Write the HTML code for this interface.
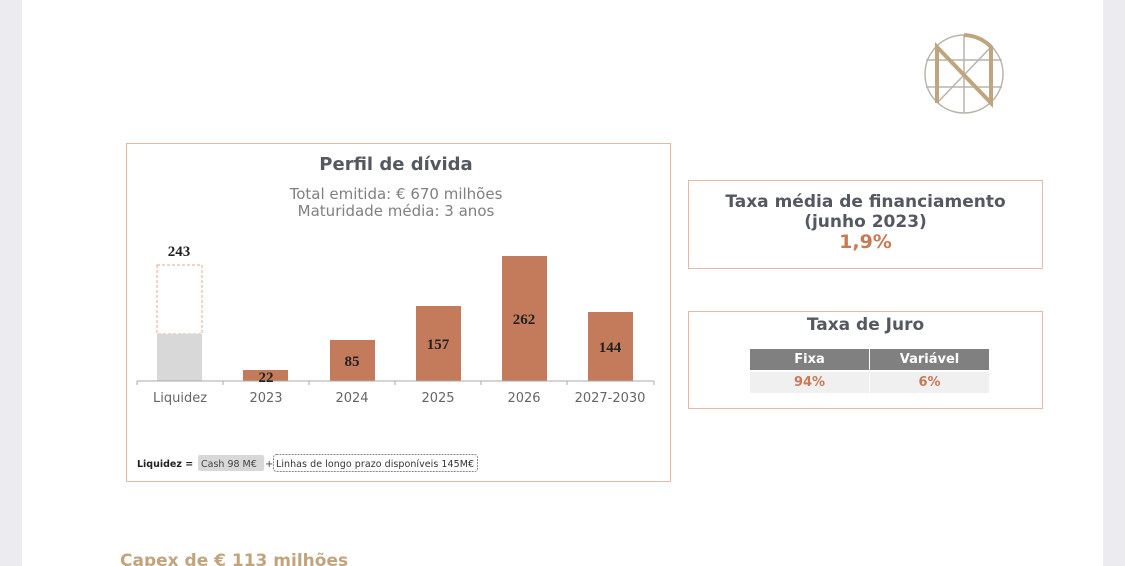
<!DOCTYPE html>
<html><head><meta charset="utf-8"><style>
html,body{margin:0;width:1125px;height:566px;overflow:hidden}
body{background:#ebebf0;font-family:"DejaVu Sans","Liberation Sans",sans-serif;position:relative}
.page{position:absolute;left:22px;top:0;width:1081px;height:566px;background:#fff}
.a{position:absolute}
.box{position:absolute;border:1.5px solid #e6b9a6;box-sizing:border-box}
.c{text-align:center}
</style></head><body>
<div class="page"></div>
<svg class="a" style="left:920px;top:30px" width="90" height="90" viewBox="0 0 90 90">
<g stroke="#b9b3ab" stroke-width="1.5" fill="none"><circle cx="44" cy="44" r="39"/>
<line x1="6" y1="30" x2="82" y2="30"/><line x1="6" y1="57" x2="82" y2="57"/><line x1="44" y1="5" x2="44" y2="83"/><line x1="17" y1="73" x2="71" y2="17"/></g>
<g stroke="#bfa57e" stroke-width="4" fill="none"><path d="M17 73 V17 L71 73 V17"/><path d="M44 5 A39 39 0 0 1 72 18"/></g>
</svg>
<div class="box" style="left:126px;top:143px;width:545px;height:339px"></div>
<div class="a c" style="left:126px;width:540px;top:154px;font-size:18px;font-weight:bold;color:#545860">Perfil de dívida</div>
<div class="a c" style="left:126px;width:540px;top:186px;font-size:15px;color:#808080;line-height:17px">Total emitida: € 670 milhões<br>Maturidade média: 3 anos</div>
<svg class="a" style="left:0;top:0" width="700" height="480">
<rect x="157" y="265" width="45" height="69" fill="none" stroke="#e0a88c" stroke-dasharray="3,2"/>
<rect x="157" y="334" width="45" height="47" fill="#d8d8d8"/>
<g fill="#c47b5c"><rect x="243" y="370" width="45" height="11"/><rect x="330" y="340" width="45" height="41"/><rect x="416" y="306" width="45" height="75"/><rect x="502" y="256" width="45" height="125"/><rect x="588" y="312" width="45" height="69"/></g>
<g stroke="#aaa" stroke-width="1"><line x1="137" y1="381" x2="654" y2="381"/>
<line x1="137" y1="381" x2="137" y2="385"/><line x1="223" y1="381" x2="223" y2="385"/><line x1="309" y1="381" x2="309" y2="385"/><line x1="395" y1="381" x2="395" y2="385"/><line x1="481" y1="381" x2="481" y2="385"/><line x1="567" y1="381" x2="567" y2="385"/><line x1="654" y1="381" x2="654" y2="385"/></g>
<g font-family="Liberation Serif,serif" font-weight="bold" font-size="15" fill="#222" text-anchor="middle">
<text x="179" y="256">243</text><text x="266" y="382">22</text><text x="352" y="366">85</text><text x="438" y="349">157</text><text x="524" y="324">262</text><text x="610" y="352">144</text></g>
<g font-size="13" fill="#666" text-anchor="middle" font-family="DejaVu Sans,sans-serif">
<text x="180" y="402">Liquidez</text><text x="266" y="402">2023</text><text x="352" y="402">2024</text><text x="438" y="402">2025</text><text x="524" y="402">2026</text><text x="610" y="402">2027-2030</text></g>
<text x="137" y="467" font-size="9.5" font-weight="bold" fill="#222">Liquidez =</text>
<rect x="198" y="455" width="66" height="16" rx="2" fill="#d8d8d8"/>
<text x="201" y="467" font-size="9.5" fill="#444">Cash 98 M€</text>
<text x="265" y="467" font-size="10" fill="#444">+</text>
<rect x="273.5" y="454.5" width="204" height="17" rx="3" fill="none" stroke="#888" stroke-dasharray="2,1"/>
<text x="276" y="467" font-size="9.5" fill="#333" textLength="198">Linhas de longo prazo disponíveis 145M€</text>
</svg>
<div class="box" style="left:688px;top:180px;width:355px;height:89px"></div>
<div class="a c" style="left:688px;width:355px;top:192px;font-size:17px;font-weight:bold;color:#545860;line-height:20px">Taxa média de financiamento<br>(junho 2023)<br><span style="color:#c87a55;font-size:19px">1,9%</span></div>
<div class="box" style="left:688px;top:311px;width:355px;height:98px"></div>
<div class="a c" style="left:688px;width:355px;top:315px;font-size:17px;font-weight:bold;color:#545860">Taxa de Juro</div>
<div class="a c" style="left:750px;top:349px;width:119px;height:21px;background:#808080;color:#fff;font-size:13px;font-weight:bold;line-height:21px">Fixa</div>
<div class="a c" style="left:870px;top:349px;width:119px;height:21px;background:#808080;color:#fff;font-size:13px;font-weight:bold;line-height:21px">Variável</div>
<div class="a c" style="left:750px;top:372px;width:119px;height:21px;background:#f0f0f0;color:#c87a55;font-size:13px;font-weight:bold;line-height:21px">94%</div>
<div class="a c" style="left:870px;top:372px;width:119px;height:21px;background:#f0f0f0;color:#c87a55;font-size:13px;font-weight:bold;line-height:21px">6%</div>
<div class="a" style="left:120px;top:551px;font-size:17px;font-weight:bold;color:#c2a47c">Capex de € 113 milhões</div>
</body></html>
